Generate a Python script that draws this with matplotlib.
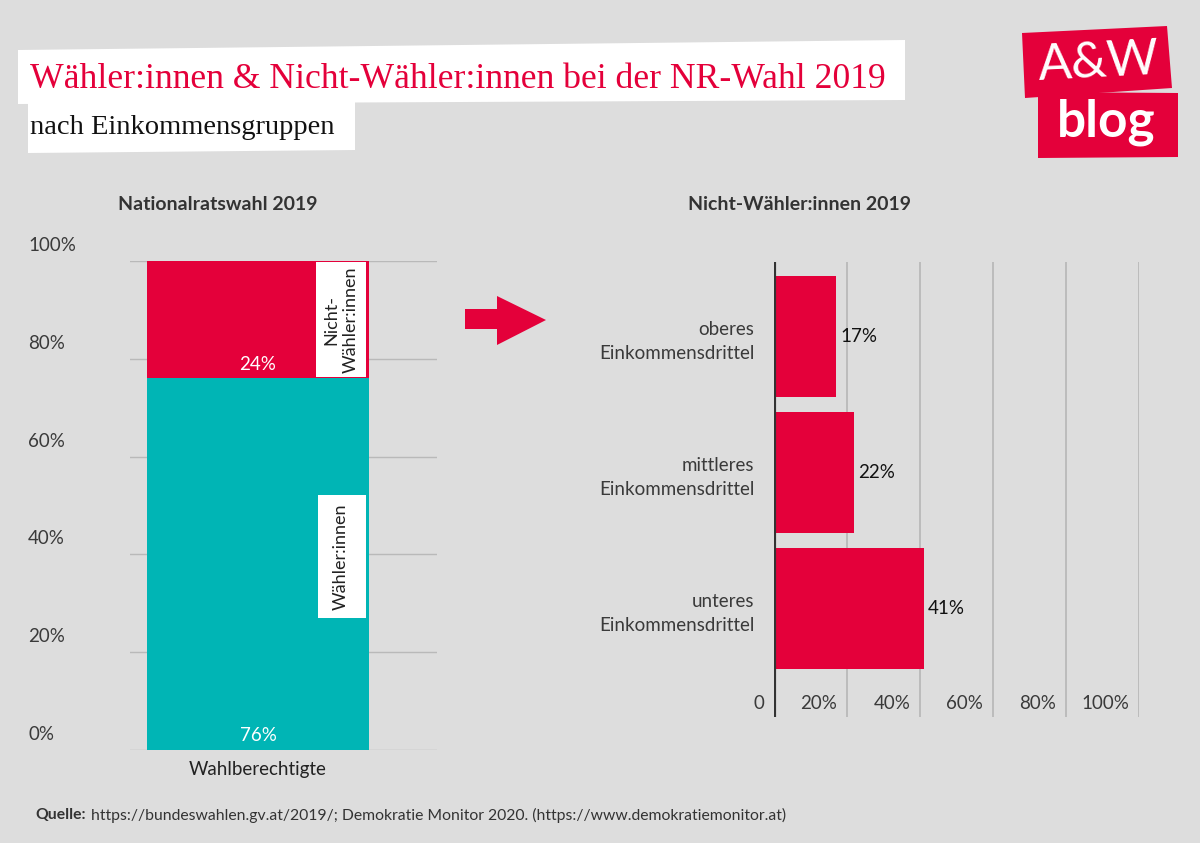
import matplotlib
matplotlib.use("Agg")
import matplotlib.pyplot as plt
from matplotlib.patches import Polygon, Rectangle

# data
left_segments = ["Wähler:innen", "Nicht-\nWähler:innen"]
left_values = [76, 24]
left_category = "Wahlberechtigte"
left_ticks = [0, 20, 40, 60, 80, 100]

right_categories = ["unteres\nEinkommensdrittel", "mittleres\nEinkommensdrittel", "oberes\nEinkommensdrittel"]
right_values = [41, 22, 17]
right_ticks = [0, 20, 40, 60, 80, 100]

source = "https://bundeswahlen.gv.at/2019/; Demokratie Monitor 2020. (https://www.demokratiemonitor.at)"

RED = "#e4003a"
TEAL = "#00b5b5"
BG = "#dddddd"
GRID = "#b9b9b9"
TXT = "#3a3a3a"
SANS = ["Lato", "DejaVu Sans"]
SERIF = ["Liberation Serif", "DejaVu Serif"]

plt.rcParams["font.family"] = SANS

W, H = 1200, 843
fig = plt.figure(figsize=(12, 8.43), dpi=100, facecolor=BG)


def px(x, y):
    # pixel position (from top-left) -> figure fraction
    return (x / W, 1 - y / H)


def ax_rect(x0, y0, x1, y1):
    return [x0 / W, 1 - y1 / H, (x1 - x0) / W, (y1 - y0) / H]


# title banners
fig.patches.append(Polygon([px(18, 50), px(905, 40), px(905, 100), px(18, 104)],
                           closed=True, transform=fig.transFigure, fc="white", ec="none"))
fig.patches.append(Polygon([px(28, 100), px(355, 98), px(355, 150), px(28, 153)],
                           closed=True, transform=fig.transFigure, fc="white", ec="none"))
fig.text(*px(30, 80), "Wähler:innen & Nicht-Wähler:innen bei der NR-Wahl 2019",
         color=RED, fontsize=25.7, family=SERIF, va="center", ha="left")
fig.text(*px(30, 127), "nach Einkommensgruppen", color="#111111",
         fontsize=20.5, family=SERIF, va="center", ha="left")

# logo
fig.patches.append(Polygon([px(1022, 33), px(1167, 26), px(1172, 88), px(1025, 98)],
                           closed=True, transform=fig.transFigure, fc=RED, ec="none"))
fig.patches.append(Polygon([px(1038, 92), px(1178, 93), px(1178, 157), px(1038, 158)],
                           closed=True, transform=fig.transFigure, fc=RED, ec="none"))
fig.text(*px(1099, 63), "A&W", color="white", fontsize=36,
         va="center", ha="center", rotation=3)
fig.text(*px(1106, 122), "blog", color="white", fontsize=37,
         fontweight="bold", va="center", ha="center")

# panel titles
fig.text(*px(218, 205), "Nationalratswahl 2019", fontsize=14, fontweight="bold",
         color="#333333", ha="center", va="center")
fig.text(*px(800, 205), "Nicht-Wähler:innen 2019", fontsize=14, fontweight="bold",
         color="#333333", ha="center", va="center")

# arrow between the panels
fig.patches.append(Polygon([px(465, 309), px(497, 309), px(497, 296), px(546, 320),
                            px(497, 345), px(497, 329), px(465, 329)],
                           closed=True, transform=fig.transFigure, fc=RED, ec="none"))

# left chart: stacked column
ax1 = fig.add_axes(ax_rect(130, 261, 437, 750))
ax1.set_facecolor("none")
ax1.set_xlim(-0.5766, 0.806)
ax1.set_ylim(0, 100)
for v in left_ticks:
    ax1.axhline(v, color=GRID, lw=1, zorder=0)
    ax1.annotate(f"{v}%", xy=(-0.332, v), xycoords=("axes fraction", "data"),
                 xytext=(0, 5), textcoords="offset points", va="bottom", ha="left",
                 fontsize=13.5, color=TXT, annotation_clip=False)
bottom = 0
seg_colors = [TEAL, RED]
for name, val, col in zip(left_segments, left_values, seg_colors):
    ax1.bar(0, val, bottom=bottom, width=1.0, color=col, zorder=2)
    ax1.annotate(f"{val}%", xy=(0, bottom), xytext=(0, 4), textcoords="offset points",
                 ha="center", va="bottom", color="white", fontsize=13.5, zorder=4)
    bottom += val

# rotated series labels in white boxes
ax1.add_patch(Rectangle((0.606, 76.3), 0.163, 23.5, transform=ax1.get_yaxis_transform(),
                        fc="white", ec="none", zorder=4))
ax1.add_patch(Rectangle((0.613, 27.0), 0.156, 25.1, transform=ax1.get_yaxis_transform(),
                        fc="white", ec="none", zorder=4))
ax1.text(0.374, 88, left_segments[1], rotation=90, ha="center", va="center",
         fontsize=13, color="#222222", linespacing=1.25, zorder=5)
ax1.text(0.374, 39.6, left_segments[0], rotation=90, ha="center", va="center",
         fontsize=13, color="#222222", zorder=5)

ax1.set_xticks([0])
ax1.set_xticklabels([left_category], fontsize=13.5, color="#222222")
ax1.tick_params(axis="x", length=0, pad=8)
ax1.set_yticks([])
for s in ax1.spines.values():
    s.set_visible(False)

# right chart: horizontal bars
ax2 = fig.add_axes(ax_rect(774, 262, 1139, 717))
ax2.set_facecolor("none")
ax2.set_xlim(0, 100)
ax2.set_ylim(-0.798, 2.548)
ypos = list(range(len(right_categories)))
for v in right_ticks[1:]:
    ax2.axvline(v, color=GRID, lw=1.3, zorder=0)
ax2.axvline(0, color="#333333", lw=3, zorder=3)
ax2.barh(ypos, right_values, height=0.89, color=RED, zorder=2)
for y, v in zip(ypos, right_values):
    ax2.annotate(f"{v}%", xy=(v, y), xytext=(3, 0), textcoords="offset points",
                 ha="left", va="center", fontsize=13.5, color="#111111", zorder=4)

# x tick labels sit left of their gridline, inside the plot area
for v in right_ticks:
    lab = "0" if v == 0 else f"{v}%"
    ax2.annotate(lab, xy=(v, -0.70), xytext=(-7, 0), textcoords="offset points",
                 ha="right", va="center", fontsize=13.5, color=TXT, annotation_clip=False)

ax2.set_yticks(ypos)
ax2.set_yticklabels(right_categories, fontsize=13.5, color=TXT, ha="right",
                    multialignment="right", linespacing=1.5)
ax2.tick_params(axis="y", length=0, pad=14)
ax2.set_xticks([])
for s in ax2.spines.values():
    s.set_visible(False)

# source line
q = fig.text(*px(35, 815), "Quelle:", fontsize=11.3, fontweight="bold", color="#333333",
             va="center", ha="left")
fig.add_artist(plt.Annotation(source, xy=(1, 0.5), xycoords=q, xytext=(4, 0),
                              textcoords="offset points", fontsize=11.3,
                              color="#333333", va="center", ha="left"))

fig.savefig("out.png", dpi=100, facecolor=BG)
